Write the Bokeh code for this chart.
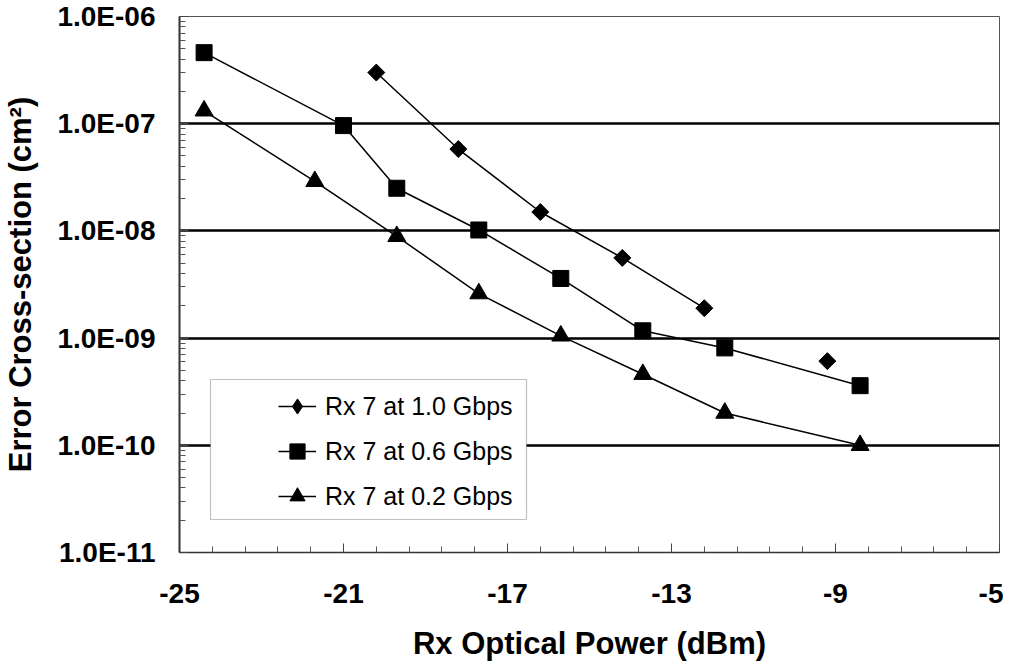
import math
from bokeh.plotting import figure
from bokeh.models import (FixedTicker, CustomJSTickFormatter, Legend, LegendItem,
                          BoxAnnotation, Range1d)
from bokeh.embed import file_html
from bokeh.resources import INLINE

# ---- data ----
power_10 = [-20.2, -18.2, -16.2, -14.2, -12.2, -9.2]
xs_10 = [3.0e-7, 5.8e-8, 1.5e-8, 5.6e-9, 1.9e-9, 6.1e-10]

power_06 = [-24.4, -21.0, -19.7, -17.7, -15.7, -13.7, -11.7, -8.4]
xs_06 = [4.6e-7, 9.6e-8, 2.5e-8, 1.02e-8, 3.6e-9, 1.17e-9, 8.1e-10, 3.6e-10]

power_02 = [-24.4, -21.7, -19.7, -17.7, -15.7, -13.7, -11.7, -8.4]
xs_02 = [1.32e-7, 2.9e-8, 8.9e-9, 2.6e-9, 1.05e-9, 4.6e-10, 2.0e-10, 1.0e-10]

x_ticks = [-25, -21, -17, -13, -9, -5]
y_exps = [-11, -10, -9, -8, -7, -6]
labels = ["Rx 7 at 1.0 Gbps", "Rx 7 at 0.6 Gbps", "Rx 7 at 0.2 Gbps"]

FONT = "Liberation Sans"

p = figure(width=1003, height=666, output_backend="svg", toolbar_location=None,
           y_axis_type="log", x_range=Range1d(-25, -5),
           y_range=Range1d(10 ** y_exps[0], 10 ** y_exps[-1]),
           min_border_left=179, min_border_right=4, min_border_top=16,
           min_border_bottom=114)
p.background_fill_color = "white"
p.border_fill_color = "white"
p.outline_line_color = "#555555"
p.outline_line_width = 1

# ticks
x_minor = [round(x_ticks[0] + 0.8 * i, 2) for i in range(int(round((x_ticks[-1] - x_ticks[0]) / 0.8)) + 1)]
x_minor = [v for v in x_minor if v not in x_ticks]
p.xaxis.ticker = FixedTicker(ticks=x_ticks, minor_ticks=x_minor)
p.xaxis.formatter = CustomJSTickFormatter(code="return tick.toFixed(0);")
y_major = [10.0 ** e for e in y_exps]
y_minor = [m * 10.0 ** e for e in y_exps[:-1] for m in range(2, 10)]
p.yaxis.ticker = FixedTicker(ticks=y_major, minor_ticks=y_minor)
p.yaxis.formatter = CustomJSTickFormatter(code="""
const e = Math.round(Math.log10(tick));
const a = Math.abs(e);
return '1.0E' + (e < 0 ? '-' : '+') + (a < 10 ? '0' : '') + a;
""")

for ax in (p.xaxis[0], p.yaxis[0]):
    ax.major_label_text_font = FONT
    ax.major_label_text_font_style = "bold"
    ax.major_label_text_font_size = "28px"
    ax.major_label_text_color = "black"
    ax.axis_label_text_font = FONT
    ax.axis_label_text_font_style = "bold"
    ax.axis_label_text_font_size = "31px"
    ax.axis_label_text_color = "black"
    ax.major_tick_in = 9
    ax.major_tick_out = 0
    ax.minor_tick_in = 6
    ax.minor_tick_out = 0
    ax.major_tick_line_color = "#444444"
    ax.minor_tick_line_color = "#555555"
    ax.axis_line_color = "#333333"

p.yaxis.axis_line_width = 2
p.xaxis.axis_line_width = 1.5
p.xaxis.axis_label = "Rx Optical Power (dBm)"
p.yaxis.axis_label = "Error Cross-section (cm²)"
p.xaxis.major_label_standoff = 31
p.yaxis.major_label_standoff = 24
p.xaxis.axis_label_standoff = 20
p.yaxis.axis_label_standoff = 16

p.xgrid.visible = False
p.ygrid.ticker = FixedTicker(ticks=y_major[1:-1])
p.ygrid.grid_line_color = "black"
p.ygrid.grid_line_width = 2.5

# series
l1 = p.line(power_10[:5], xs_10[:5], line_color="black", line_width=1.5)
m1 = p.scatter(power_10, xs_10, marker="square", size=12, angle=math.pi / 4,
               fill_color="black", line_color="black")
l2 = p.line(power_06, xs_06, line_color="black", line_width=1.5)
m2 = p.scatter(power_06, xs_06, marker="square", size=16,
               fill_color="black", line_color="black")
l3 = p.line(power_02, xs_02, line_color="black", line_width=1.5)
m3 = p.scatter(power_02, xs_02, marker="triangle", size=18,
               fill_color="black", line_color="black")
# legend key for the diamond series (legend keys are drawn unrotated)
m1_key = p.scatter(power_10, xs_10, marker="diamond", size=16,
                   fill_color="black", line_color="black", visible=False)

# legend frame
box = BoxAnnotation(left=31, right=347, bottom=33, top=173,
                    left_units="screen", right_units="screen",
                    bottom_units="screen", top_units="screen",
                    fill_color="white", fill_alpha=1.0,
                    line_color="#333333", line_width=1.2, level="overlay")
p.add_layout(box)

legend = Legend(items=[LegendItem(label=labels[0], renderers=[l1, m1_key]),
                       LegendItem(label=labels[1], renderers=[l2, m2]),
                       LegendItem(label=labels[2], renderers=[l3, m3])],
                location=(99, 36), padding=0, margin=0, spacing=5,
                glyph_width=38, glyph_height=40, label_height=40,
                label_standoff=9, border_line_color=None,
                background_fill_alpha=0.0,
                label_text_font=FONT, label_text_font_size="25px",
                label_text_color="black")
p.add_layout(legend, "center")

open("out.html", "w").write(file_html(p, INLINE))
